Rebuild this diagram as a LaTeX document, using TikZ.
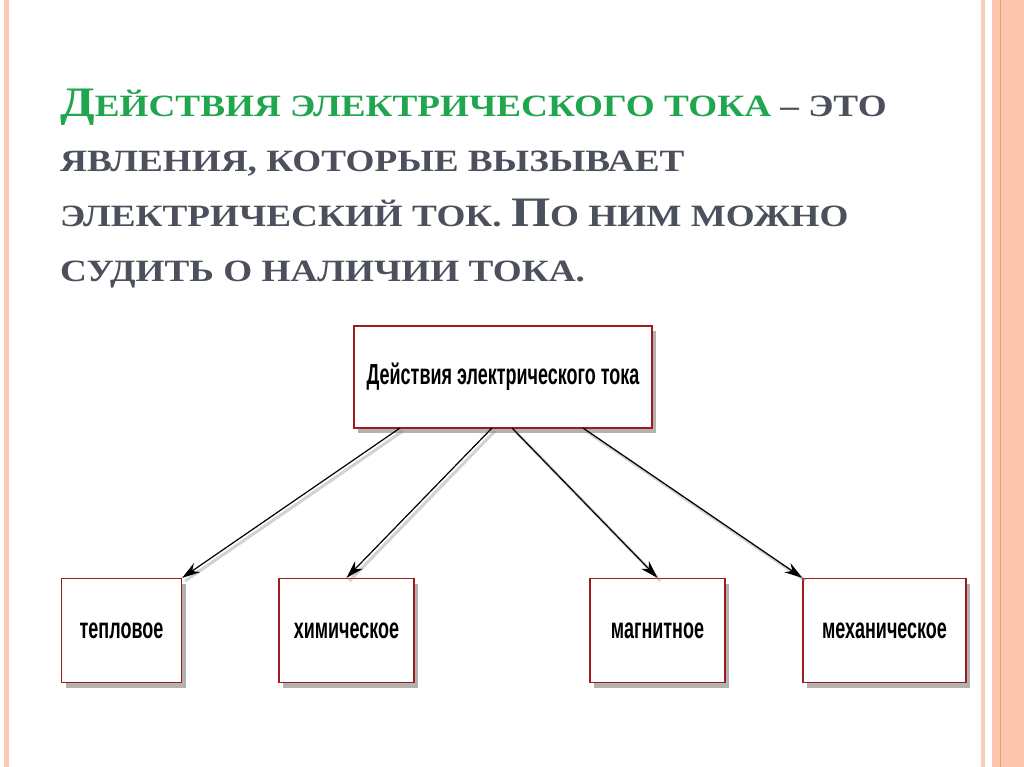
\documentclass[tikz,border=0pt]{standalone}
\usepackage{fontspec}
\setmainfont{Liberation Serif}
\newfontfamily\titlefont[FakeStretch=1.2]{Liberation Serif}
\newfontfamily\boxfont[FakeStretch=0.62]{Liberation Sans}
\usepackage{xcolor}
\usepackage{tikz}
\usetikzlibrary{arrows.meta, shadows, calc}

\definecolor{titlegreen}{HTML}{1FA64E}
\definecolor{titlegray}{HTML}{4B505C}
\definecolor{boxred}{HTML}{9E1C1C}
\definecolor{stripepink}{HTML}{F9CBBA}
\definecolor{stripeband}{HTML}{FCC6AE}
\definecolor{stripeline}{HTML}{EE9E6A}

% big initial letter of the fake small caps
\newcommand{\bigini}[1]{{\fontsize{42}{42}\selectfont #1}}

\begin{document}
\begin{tikzpicture}[x=1pt, y=-1pt,
    effectbox/.style={draw=boxred, line width=1.3pt, fill=white,
      minimum height=104pt, inner sep=0pt,
      font=\boxfont\bfseries\fontsize{29}{29}\selectfont,
      drop shadow={shadow xshift=4pt, shadow yshift=-5pt, fill=black, opacity=0.3}},
    titleline/.style={anchor=base west, inner sep=0pt, text=titlegray,
      font=\titlefont\bfseries\fontsize{31}{31}\selectfont},
    effectarrow/.style={-{Stealth[length=18pt, width=11pt]}, line width=1.2pt, black},
    arrowshadow/.style={line width=3pt, gray, opacity=0.35,
      transform canvas={xshift=3pt, yshift=-3pt}}]
  % Page and side stripes
  \useasboundingbox (0,0) rectangle (1024,767);
  \fill[white] (0,0) rectangle (1024,767);
  \fill[stripepink] (4,0) rectangle (9,767);
  \fill[stripepink] (981,0) rectangle (985,767);
  \fill[stripeband] (992,0) rectangle (1024,767);
  \fill[stripeline] (999.5,0) rectangle (1001,767);

  % Title text
  \node[titleline] (title1) at (60,117)
    {{\color{titlegreen}\bigini{Д}ЕЙСТВИЯ ЭЛЕКТРИЧЕСКОГО ТОКА} – ЭТО};
  \node[titleline] (title2) at (60,172) {ЯВЛЕНИЯ, КОТОРЫЕ ВЫЗЫВАЕТ};
  \node[titleline] (title3) at (60,226) {ЭЛЕКТРИЧЕСКИЙ ТОК. \bigini{П}О НИМ МОЖНО};
  \node[titleline] (title4) at (60,281) {СУДИТЬ О НАЛИЧИИ ТОКА.};

  % Boxes
  \node[effectbox, minimum width=298pt, minimum height=102pt] (actions) at (503,377)
    {Действия электрического тока};
  \node[effectbox, minimum width=120pt] (heat) at (121.5,630.5) {тепловое};
  \node[effectbox, minimum width=135pt] (chem) at (346.5,630.5) {химическое};
  \node[effectbox, minimum width=135pt] (magn) at (657.5,630.5) {магнитное};
  \node[effectbox, minimum width=163pt] (mech) at (884.5,630.5) {механическое};

  % Arrow starts on the lower edge of the top box
  \coordinate (s1) at (400,428);
  \coordinate (s2) at (492,428);
  \coordinate (s3) at (512,428);
  \coordinate (s4) at (583,428);

  % Arrow shadows
  \draw[arrowshadow] (s1) -- (heat.north east);
  \draw[arrowshadow] (s2) -- (chem.north);
  \draw[arrowshadow] (s3) -- (magn.north);
  \draw[arrowshadow] (s4) -- (mech.north west);

  % Arrows
  \draw[effectarrow] (s1) -- (heat.north east);
  \draw[effectarrow] (s2) -- (chem.north);
  \draw[effectarrow] (s3) -- (magn.north);
  \draw[effectarrow] (s4) -- (mech.north west);
\end{tikzpicture}
\end{document}
